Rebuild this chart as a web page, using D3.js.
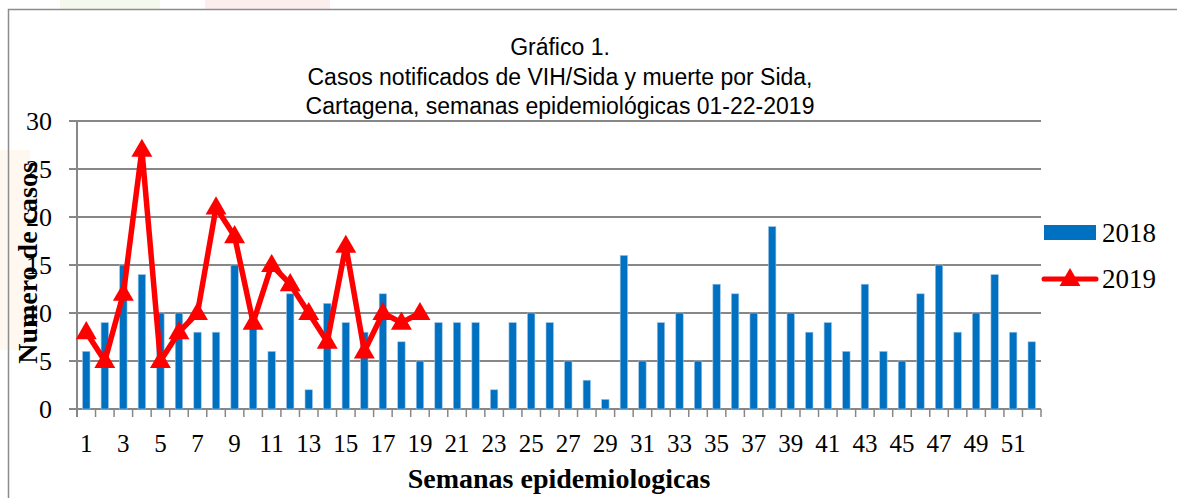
<!DOCTYPE html>
<html>
<head>
<meta charset="utf-8">
<script src="https://cdn.jsdelivr.net/npm/d3@7"></script>
<style>
  html, body { margin: 0; padding: 0; background: #fff; }
  .chart { width: 1177px; height: 498px; overflow: hidden; }
</style>
</head>
<body>
<div class="chart"></div>
<script>
var weeks = d3.range(1, 53);
var weekLabels = weeks.filter(function(w) { return w % 2 === 1; });
var cases2018 = [6, 9, 15, 14, 10, 10, 8, 8, 15, 9, 6, 12, 2, 11, 9, 8, 12, 7, 5, 9,
                 9, 9, 2, 9, 10, 9, 5, 3, 1, 16, 5, 9, 10, 5, 13, 12, 10, 19, 10, 8,
                 9, 6, 13, 6, 5, 12, 15, 8, 10, 14, 8, 7];
var cases2019 = [8, 5, 12, 27, 5, 8, 10, 21, 18, 9, 15, 13, 10, 7, 17, 6, 10, 9, 10];
var yTicks = [0, 5, 10, 15, 20, 25, 30];
var seriesNames = ["2018", "2019"];
var titleLines = ["Gráfico 1.",
                  "Casos notificados de VIH/Sida y muerte por Sida,",
                  "Cartagena, semanas epidemiológicas 01-22-2019"];

var Cartagena = Cartagena || {};

Cartagena.Chart = (function() {
  var width = 1177, height = 498;
  var plot = { left: 77, right: 1041, top: 121, bottom: 409 };
  var blue = "#0070c0", red = "#ff0000", grid = "#878787";
  var serif = "'Liberation Serif', 'Times New Roman', serif";

  function drawChart() {
    var svg = d3.select(".chart").append("svg")
      .attr("width", width)
      .attr("height", height);

    svg.append("rect").attr("width", width).attr("height", height).attr("fill", "#fff");

    // faint watermark behind the page
    svg.append("rect").attr("x", 60).attr("y", 0).attr("width", 100).attr("height", 9)
      .attr("fill", "#eef4e0").attr("opacity", 0.6);
    svg.append("rect").attr("x", 205).attr("y", 0).attr("width", 125).attr("height", 9)
      .attr("fill", "#fbe3e3").attr("opacity", 0.6);
    svg.append("rect").attr("x", 0).attr("y", 150).attr("width", 30).attr("height", 200)
      .attr("fill", "#fdf3e6").attr("opacity", 0.6);

    // frame
    svg.append("rect")
      .attr("x", 8.5).attr("y", 9.5)
      .attr("width", 1200).attr("height", 600)
      .attr("fill", "none")
      .attr("stroke", "#8c8c8c")
      .attr("stroke-width", 1.5);

    var x = d3.scaleBand()
      .domain(weeks)
      .range([plot.left, plot.right])
      .paddingInner(0.6)
      .paddingOuter(0.3);

    var y = d3.scaleLinear()
      .domain([0, 30])
      .range([plot.bottom, plot.top]);

    var step = x.step();
    var cx = function(w) { return x(w) + x.bandwidth() / 2; };

    // gridlines + y ticks
    svg.append("g").attr("class", "grid")
      .selectAll("line")
      .data(yTicks)
      .enter().append("line")
        .attr("x1", plot.left - 8)
        .attr("x2", plot.right)
        .attr("y1", function(d) { return y(d); })
        .attr("y2", function(d) { return y(d); })
        .attr("stroke", grid)
        .attr("stroke-width", 2);

    svg.append("line")
      .attr("x1", plot.left).attr("x2", plot.left)
      .attr("y1", plot.top).attr("y2", plot.bottom + 8)
      .attr("stroke", grid).attr("stroke-width", 2);

    svg.append("g").attr("class", "y-labels")
      .selectAll("text")
      .data(yTicks)
      .enter().append("text")
        .attr("x", 52)
        .attr("y", function(d) { return y(d) + 9; })
        .attr("text-anchor", "end")
        .attr("font-family", serif)
        .attr("font-size", 26)
        .attr("fill", "#000")
        .text(function(d) { return d; });

    // x ticks at category boundaries
    var bounds = weeks.map(function(w) { return plot.left + (w - 1) * step; }).concat([plot.right]);
    svg.append("g").attr("class", "x-ticks")
      .selectAll("line")
      .data(bounds)
      .enter().append("line")
        .attr("x1", function(d) { return d; })
        .attr("x2", function(d) { return d; })
        .attr("y1", plot.bottom)
        .attr("y2", plot.bottom + 8)
        .attr("stroke", grid)
        .attr("stroke-width", 1.5);

    svg.append("g").attr("class", "x-labels")
      .selectAll("text")
      .data(weekLabels)
      .enter().append("text")
        .attr("x", function(d) { return cx(d); })
        .attr("y", 452)
        .attr("text-anchor", "middle")
        .attr("font-family", serif)
        .attr("font-size", 25)
        .attr("fill", "#000")
        .text(function(d) { return d; });

    // bars 2018
    svg.append("g").attr("class", "bars")
      .selectAll("rect")
      .data(cases2018)
      .enter().append("rect")
        .attr("x", function(d, i) { return x(weeks[i]); })
        .attr("y", function(d) { return y(d); })
        .attr("width", x.bandwidth())
        .attr("height", function(d) { return y(0) - y(d); })
        .attr("fill", blue)
        .attr("stroke", "#9fc4e6")
        .attr("stroke-width", 0.6);

    // line 2019
    var line = d3.line()
      .x(function(d, i) { return cx(weeks[i]); })
      .y(function(d) { return y(d); });

    svg.append("path")
      .datum(cases2019)
      .attr("d", line)
      .attr("fill", "none")
      .attr("stroke", red)
      .attr("stroke-width", 5.5)
      .attr("stroke-linejoin", "round");

    var tri = d3.symbol().type(d3.symbolTriangle).size(190);
    svg.append("g").attr("class", "markers")
      .selectAll("path")
      .data(cases2019)
      .enter().append("path")
        .attr("d", tri)
        .attr("transform", function(d, i) { return "translate(" + cx(weeks[i]) + "," + (y(d) + 1) + ")"; })
        .attr("fill", red);

    // titles
    svg.append("g").attr("class", "title")
      .selectAll("text")
      .data(titleLines)
      .enter().append("text")
        .attr("x", 560)
        .attr("y", function(d, i) { return 55 + i * 29.5; })
        .attr("text-anchor", "middle")
        .attr("font-family", "'Liberation Sans', Arial, sans-serif")
        .attr("font-size", 23)
        .attr("fill", "#000")
        .text(function(d) { return d; });

    svg.append("text")
      .attr("transform", "translate(37,263) rotate(-90)")
      .attr("text-anchor", "middle")
      .attr("font-family", serif)
      .attr("font-weight", "bold")
      .attr("font-size", 28)
      .attr("fill", "#000")
      .text("Numero de casos");

    svg.append("text")
      .attr("x", 559)
      .attr("y", 488)
      .attr("text-anchor", "middle")
      .attr("font-family", serif)
      .attr("font-weight", "bold")
      .attr("font-size", 28)
      .attr("fill", "#000")
      .text("Semanas epidemiologicas");

    // legend
    var legend = svg.append("g").attr("class", "legend");
    legend.append("rect")
      .attr("x", 1044).attr("y", 225)
      .attr("width", 52).attr("height", 15)
      .attr("fill", blue);
    legend.append("line")
      .attr("x1", 1044).attr("x2", 1096)
      .attr("y1", 279).attr("y2", 279)
      .attr("stroke", red).attr("stroke-width", 5)
      .attr("stroke-linecap", "round");
    legend.append("path")
      .attr("d", tri)
      .attr("transform", "translate(1070,280)")
      .attr("fill", red);
    legend.selectAll("text")
      .data(seriesNames)
      .enter().append("text")
        .attr("x", 1102)
        .attr("y", function(d, i) { return 242 + i * 46; })
        .attr("font-family", serif)
        .attr("font-size", 27)
        .attr("fill", "#000")
        .text(function(d) { return d; });
  }

  return {
    draw: function() {
      return drawChart();
    }
  };
})();

Cartagena.Chart.draw();
</script>
</body>
</html>
